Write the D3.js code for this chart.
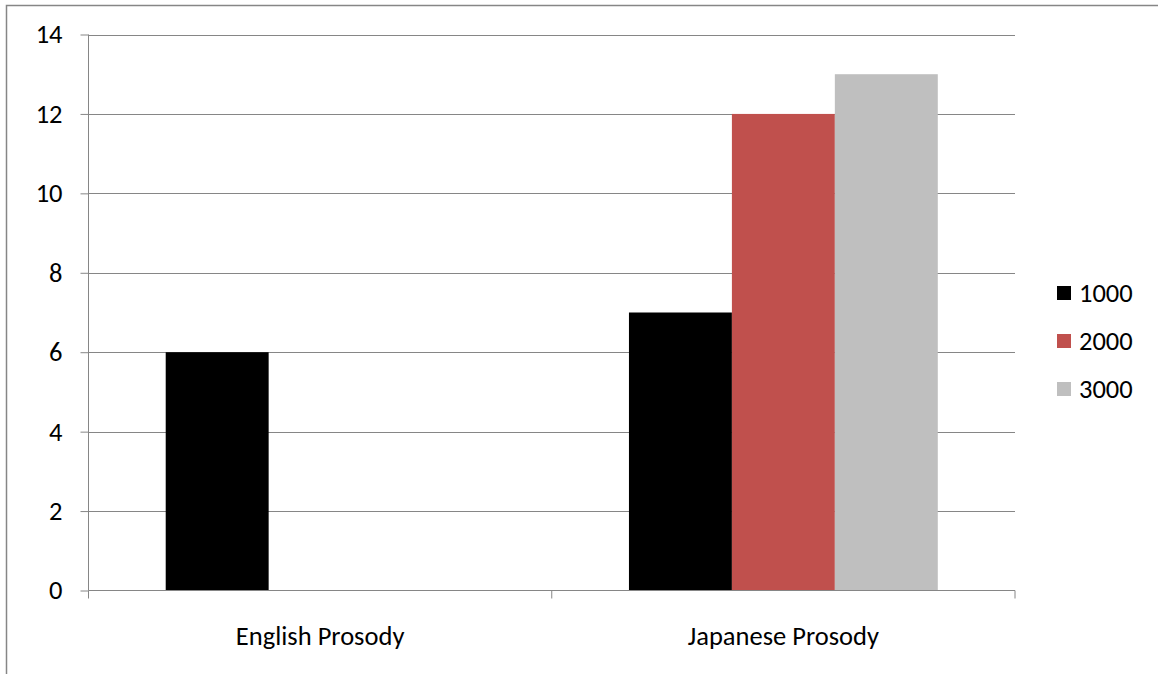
<!DOCTYPE html>
<html>
<head>
<meta charset="utf-8">
<script src="https://cdn.jsdelivr.net/npm/d3@7"></script>
<style>
  body { margin: 0; background: #fff; }
  svg { display: block; font-family: Carlito, Lato, sans-serif; }
</style>
</head>
<body>
<svg id="chart" width="1158" height="674"></svg>
<script>
const categories = ["English Prosody", "Japanese Prosody"];
const series = ["1000", "2000", "3000"];
const values1000 = [6, 7];
const values2000 = [0, 12];
const values3000 = [0, 13];
const yTicks = [0, 2, 4, 6, 8, 10, 12, 14];
const colors = ["#000000", "#c0504d", "#bfbfbf"];

const svg = d3.select("#chart");
const axisColor = "#868686";
const fontSize = "26.5px";

// outer frame, only top and left edges show
svg.append("rect")
    .attr("x", 6.5).attr("y", 5.5)
    .attr("width", 1200).attr("height", 700)
    .attr("fill", "none").attr("stroke", axisColor).attr("stroke-width", 1.5);

const plotLeft = 88.5, plotRight = 1015, plotTop = 34.5, plotBottom = 590.5;

const y = d3.scaleLinear().domain([0, 14]).range([plotBottom, plotTop]);
const x0 = d3.scaleBand().domain(categories).range([plotLeft, plotRight]).padding(0);
const x1 = d3.scaleBand().domain(series).range([0, x0.bandwidth()]).paddingInner(0).paddingOuter(0.75);

// gridlines
svg.append("g").selectAll("line")
    .data(yTicks.slice(1))
    .enter().append("line")
    .attr("x1", plotLeft).attr("x2", plotRight)
    .attr("y1", d => Math.round(y(d)) + 0.5).attr("y2", d => Math.round(y(d)) + 0.5)
    .attr("stroke", axisColor).attr("stroke-width", 1);

// bars
const rows = categories.map((c, i) => ({
    cat: c,
    vals: [values1000[i], values2000[i], values3000[i]]
}));

svg.append("g").selectAll("g")
    .data(rows)
    .enter().append("g")
    .attr("transform", d => "translate(" + x0(d.cat) + ",0)")
    .selectAll("rect")
    .data(d => d.vals.map((v, j) => ({ s: series[j], v: v, c: colors[j] })))
    .enter().append("rect")
    .attr("x", d => x1(d.s))
    .attr("width", x1.bandwidth())
    .attr("y", d => y(d.v))
    .attr("height", d => y(0) - y(d.v))
    .attr("fill", d => d.c);

// y axis
const yAxis = svg.append("g")
    .attr("transform", "translate(" + plotLeft + ",0)")
    .call(d3.axisLeft(y).tickValues(yTicks).tickSize(8).tickPadding(18));
yAxis.select(".domain").attr("stroke", axisColor).attr("d", "M0," + plotTop + "V" + plotBottom);
yAxis.selectAll(".tick line").attr("stroke", axisColor);
yAxis.selectAll("text").attr("fill", "#000").style("font-size", fontSize)
    .style("font-family", "Carlito, Lato, sans-serif");

// x axis
const xAxis = svg.append("g")
    .attr("transform", "translate(0," + plotBottom + ")");
xAxis.append("line")
    .attr("x1", plotLeft).attr("x2", plotRight)
    .attr("stroke", axisColor);
xAxis.selectAll("line.tk")
    .data([plotLeft, plotLeft + x0.bandwidth(), plotRight])
    .enter().append("line").attr("class", "tk")
    .attr("x1", d => d).attr("x2", d => d)
    .attr("y1", 0).attr("y2", 8)
    .attr("stroke", axisColor);
xAxis.selectAll("text")
    .data(categories)
    .enter().append("text")
    .attr("x", d => x0(d) + x0.bandwidth() / 2)
    .attr("y", 54)
    .attr("text-anchor", "middle")
    .style("font-size", fontSize)
    .text(d => d);

// legend
const legend = svg.append("g").selectAll("g")
    .data(series)
    .enter().append("g")
    .attr("transform", (d, i) => "translate(1057," + (293 + i * 48) + ")");
legend.append("rect")
    .attr("x", 0).attr("y", -7)
    .attr("width", 14).attr("height", 14)
    .attr("fill", (d, i) => colors[i]);
legend.append("text")
    .attr("x", 22).attr("y", 9)
    .style("font-size", fontSize)
    .text(d => d);
</script>
</body>
</html>
